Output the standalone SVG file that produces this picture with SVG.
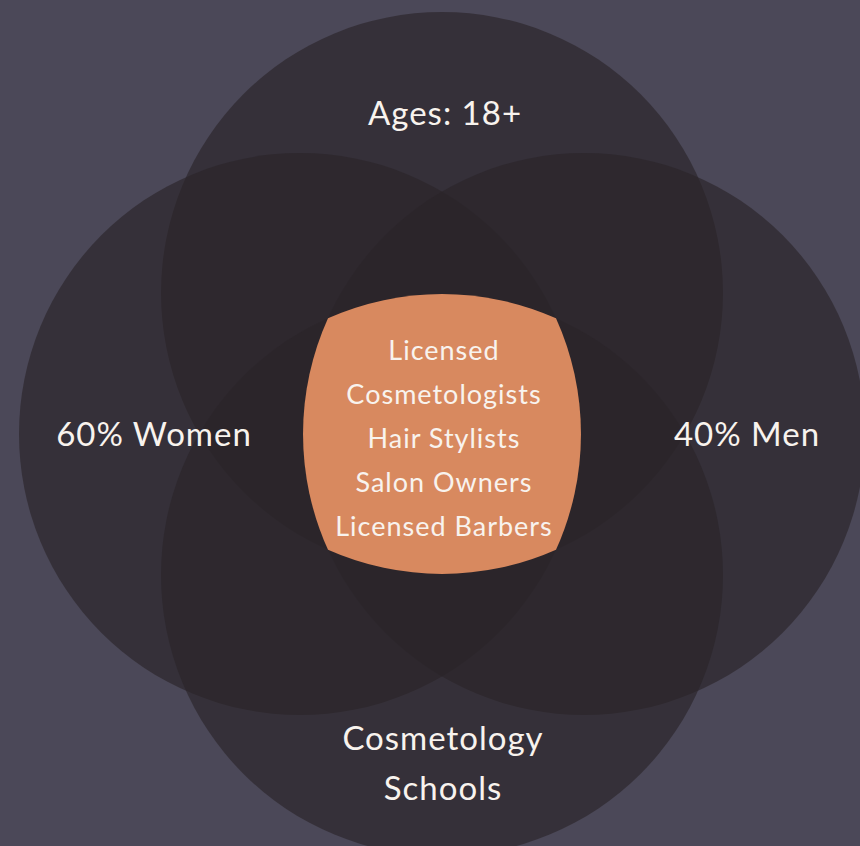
<svg xmlns="http://www.w3.org/2000/svg" width="860" height="846" viewBox="0 0 860 846">
<style>
.c{fill:#2b2529;fill-opacity:0.66}
.t{font-family:Lato,"Open Sans",sans-serif;fill:#f8f3ee;text-anchor:middle;letter-spacing:1px}
.big{font-size:33px}
.mid{font-size:27px}
</style>
<rect width="860" height="846" fill="#4b4858"/>
<g id="circle-top"><circle class="c" cx="442" cy="293" r="281"/></g>
<g id="circle-left"><circle class="c" cx="300" cy="434" r="281"/></g>
<g id="circle-right"><circle class="c" cx="584" cy="434" r="281"/></g>
<g id="circle-bottom"><circle class="c" cx="442" cy="575" r="281"/></g>
<g id="connectors"></g>
<g id="center">
<path d="M328,318.2 A281,281 0 0 1 556,318.2 A281,281 0 0 1 556,549.8 A281,281 0 0 1 328,549.8 A281,281 0 0 1 328,318.2 Z" fill="#d8895f"/>
<text class="t mid" x="444" y="360">Licensed</text>
<text class="t mid" x="444" y="404">Cosmetologists</text>
<text class="t mid" x="444" y="448">Hair Stylists</text>
<text class="t mid" x="444" y="492">Salon Owners</text>
<text class="t mid" x="444" y="536">Licensed Barbers</text>
</g>
<g id="label-top"><text class="t big" x="445" y="125">Ages: 18+</text></g>
<g id="label-left"><text class="t big" x="154" y="446">60% Women</text></g>
<g id="label-right"><text class="t big" x="747" y="446">40% Men</text></g>
<g id="label-bottom"><text class="t big" x="443" y="750">Cosmetology</text><text class="t big" x="443" y="800">Schools</text></g>
</svg>
